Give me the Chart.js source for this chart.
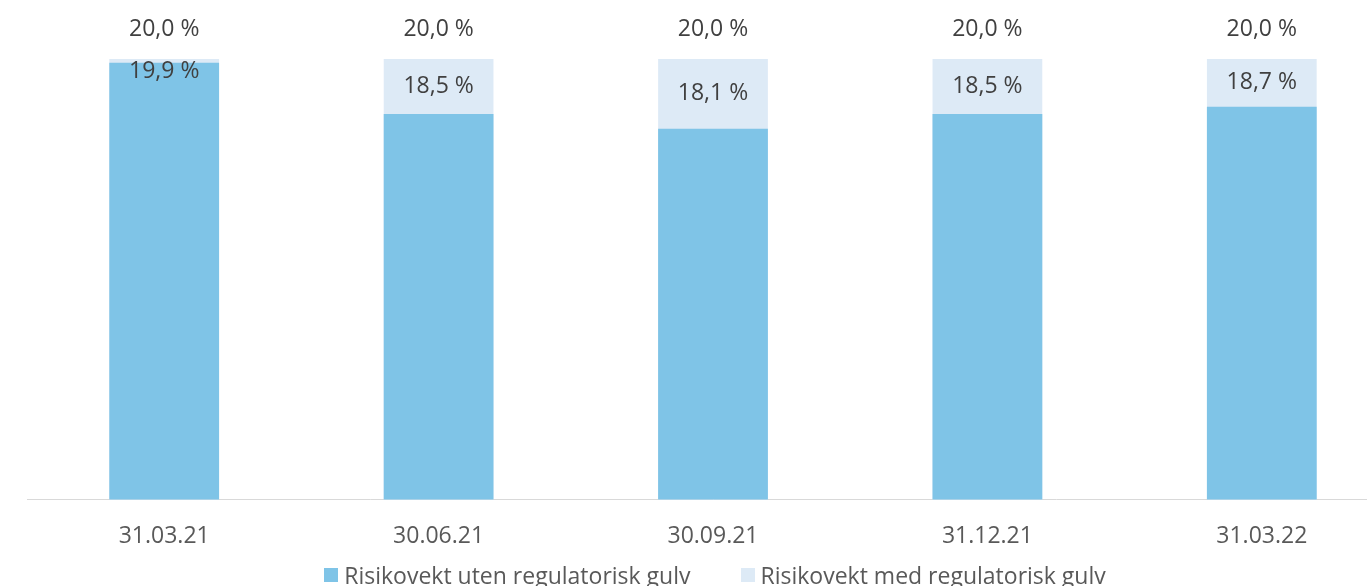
<!DOCTYPE html>
<html>
<head>
<meta charset="utf-8">
<script src="https://cdn.jsdelivr.net/npm/chart.js@4"></script>
<style>
  html, body { margin: 0; padding: 0; background: #fff; overflow: hidden; }
  #wrap { position: relative; width: 1400px; height: 586px; overflow: hidden; }
  #box { position: relative; width: 1400px; height: 575px; }
  #legend { position: absolute; left: 0; top: 559px; width: 1400px; display: flex; justify-content: center;
            padding-left: 30px; box-sizing: border-box;
            font-family: "Open Sans", sans-serif; font-size: 23px; color: #595959; line-height: 32px; }
  #legend .item { display: flex; align-items: center; margin: 0 25px; white-space: nowrap; }
  #legend .sw { width: 14px; height: 14px; margin-right: 6px; }
</style>
</head>
<body>
<div id="wrap">
  <div id="box"><canvas id="myChart"></canvas></div>
  <div id="legend"></div>
</div>
<script>
var labels = ['31.03.21', '30.06.21', '30.09.21', '31.12.21', '31.03.22'];
var utenGulv = [19.9, 18.5, 18.1, 18.5, 18.7];
var medGulv = [20.0, 20.0, 20.0, 20.0, 20.0];

function pct(v) {
    return v.toFixed(1).replace('.', ',') + ' %';
}

// value labels: total above the bar, the floor-free value inside the light part
var barLabels = {
    id: 'barLabels',
    afterDatasetsDraw: function(chart) {
        var ctx = chart.ctx;
        var dark = chart.getDatasetMeta(0).data;
        var light = chart.getDatasetMeta(1).data;
        ctx.save();
        ctx.font = '23px "Open Sans", sans-serif';
        ctx.fillStyle = '#404040';
        ctx.textAlign = 'center';
        ctx.textBaseline = 'middle';
        for (var i = 0; i < labels.length; i++) {
            var top = light[i].y;
            ctx.fillText(pct(medGulv[i]), light[i].x, top - 30);
            var y = Math.max((top + dark[i].y) / 2, top + 12);
            ctx.fillText(pct(utenGulv[i]), dark[i].x, y);
        }
        ctx.restore();
    }
};

var ctx = document.getElementById('myChart');
var myChart = new Chart(ctx, {
    type: 'bar',
    data: {
        labels: labels,
        datasets: [
            {
                label: 'Risikovekt uten regulatorisk gulv',
                data: utenGulv,
                backgroundColor: '#7fc4e7',
                grouped: false,
                barPercentage: 0.4,
                categoryPercentage: 1
            },
            {
                label: 'Risikovekt med regulatorisk gulv',
                data: medGulv,
                backgroundColor: '#ddeaf6',
                grouped: false,
                barPercentage: 0.4,
                categoryPercentage: 1
            }
        ]
    },
    options: {
        responsive: true,
        maintainAspectRatio: false,
        animation: false,
        layout: {
            padding: { left: 27, right: 1, top: 59, bottom: 2 }
        },
        scales: {
            x: {
                grid: { display: false, drawTicks: false },
                border: { display: true, color: '#d9d9d9', width: 1 },
                ticks: {
                    padding: 23,
                    color: '#595959',
                    font: { family: 'Open Sans', size: 23 }
                }
            },
            y: {
                display: false,
                min: 8,
                max: 20
            }
        },
        plugins: {
            legend: { display: false },
            tooltip: { enabled: false }
        }
    },
    plugins: [barLabels]
});

// html legend
var legendBox = document.getElementById('legend');
myChart.data.datasets.forEach(function(ds) {
    var item = document.createElement('div');
    item.className = 'item';
    var sw = document.createElement('span');
    sw.className = 'sw';
    sw.style.background = ds.backgroundColor;
    var txt = document.createElement('span');
    txt.textContent = ds.label;
    item.appendChild(sw);
    item.appendChild(txt);
    legendBox.appendChild(item);
});
</script>
</body>
</html>
